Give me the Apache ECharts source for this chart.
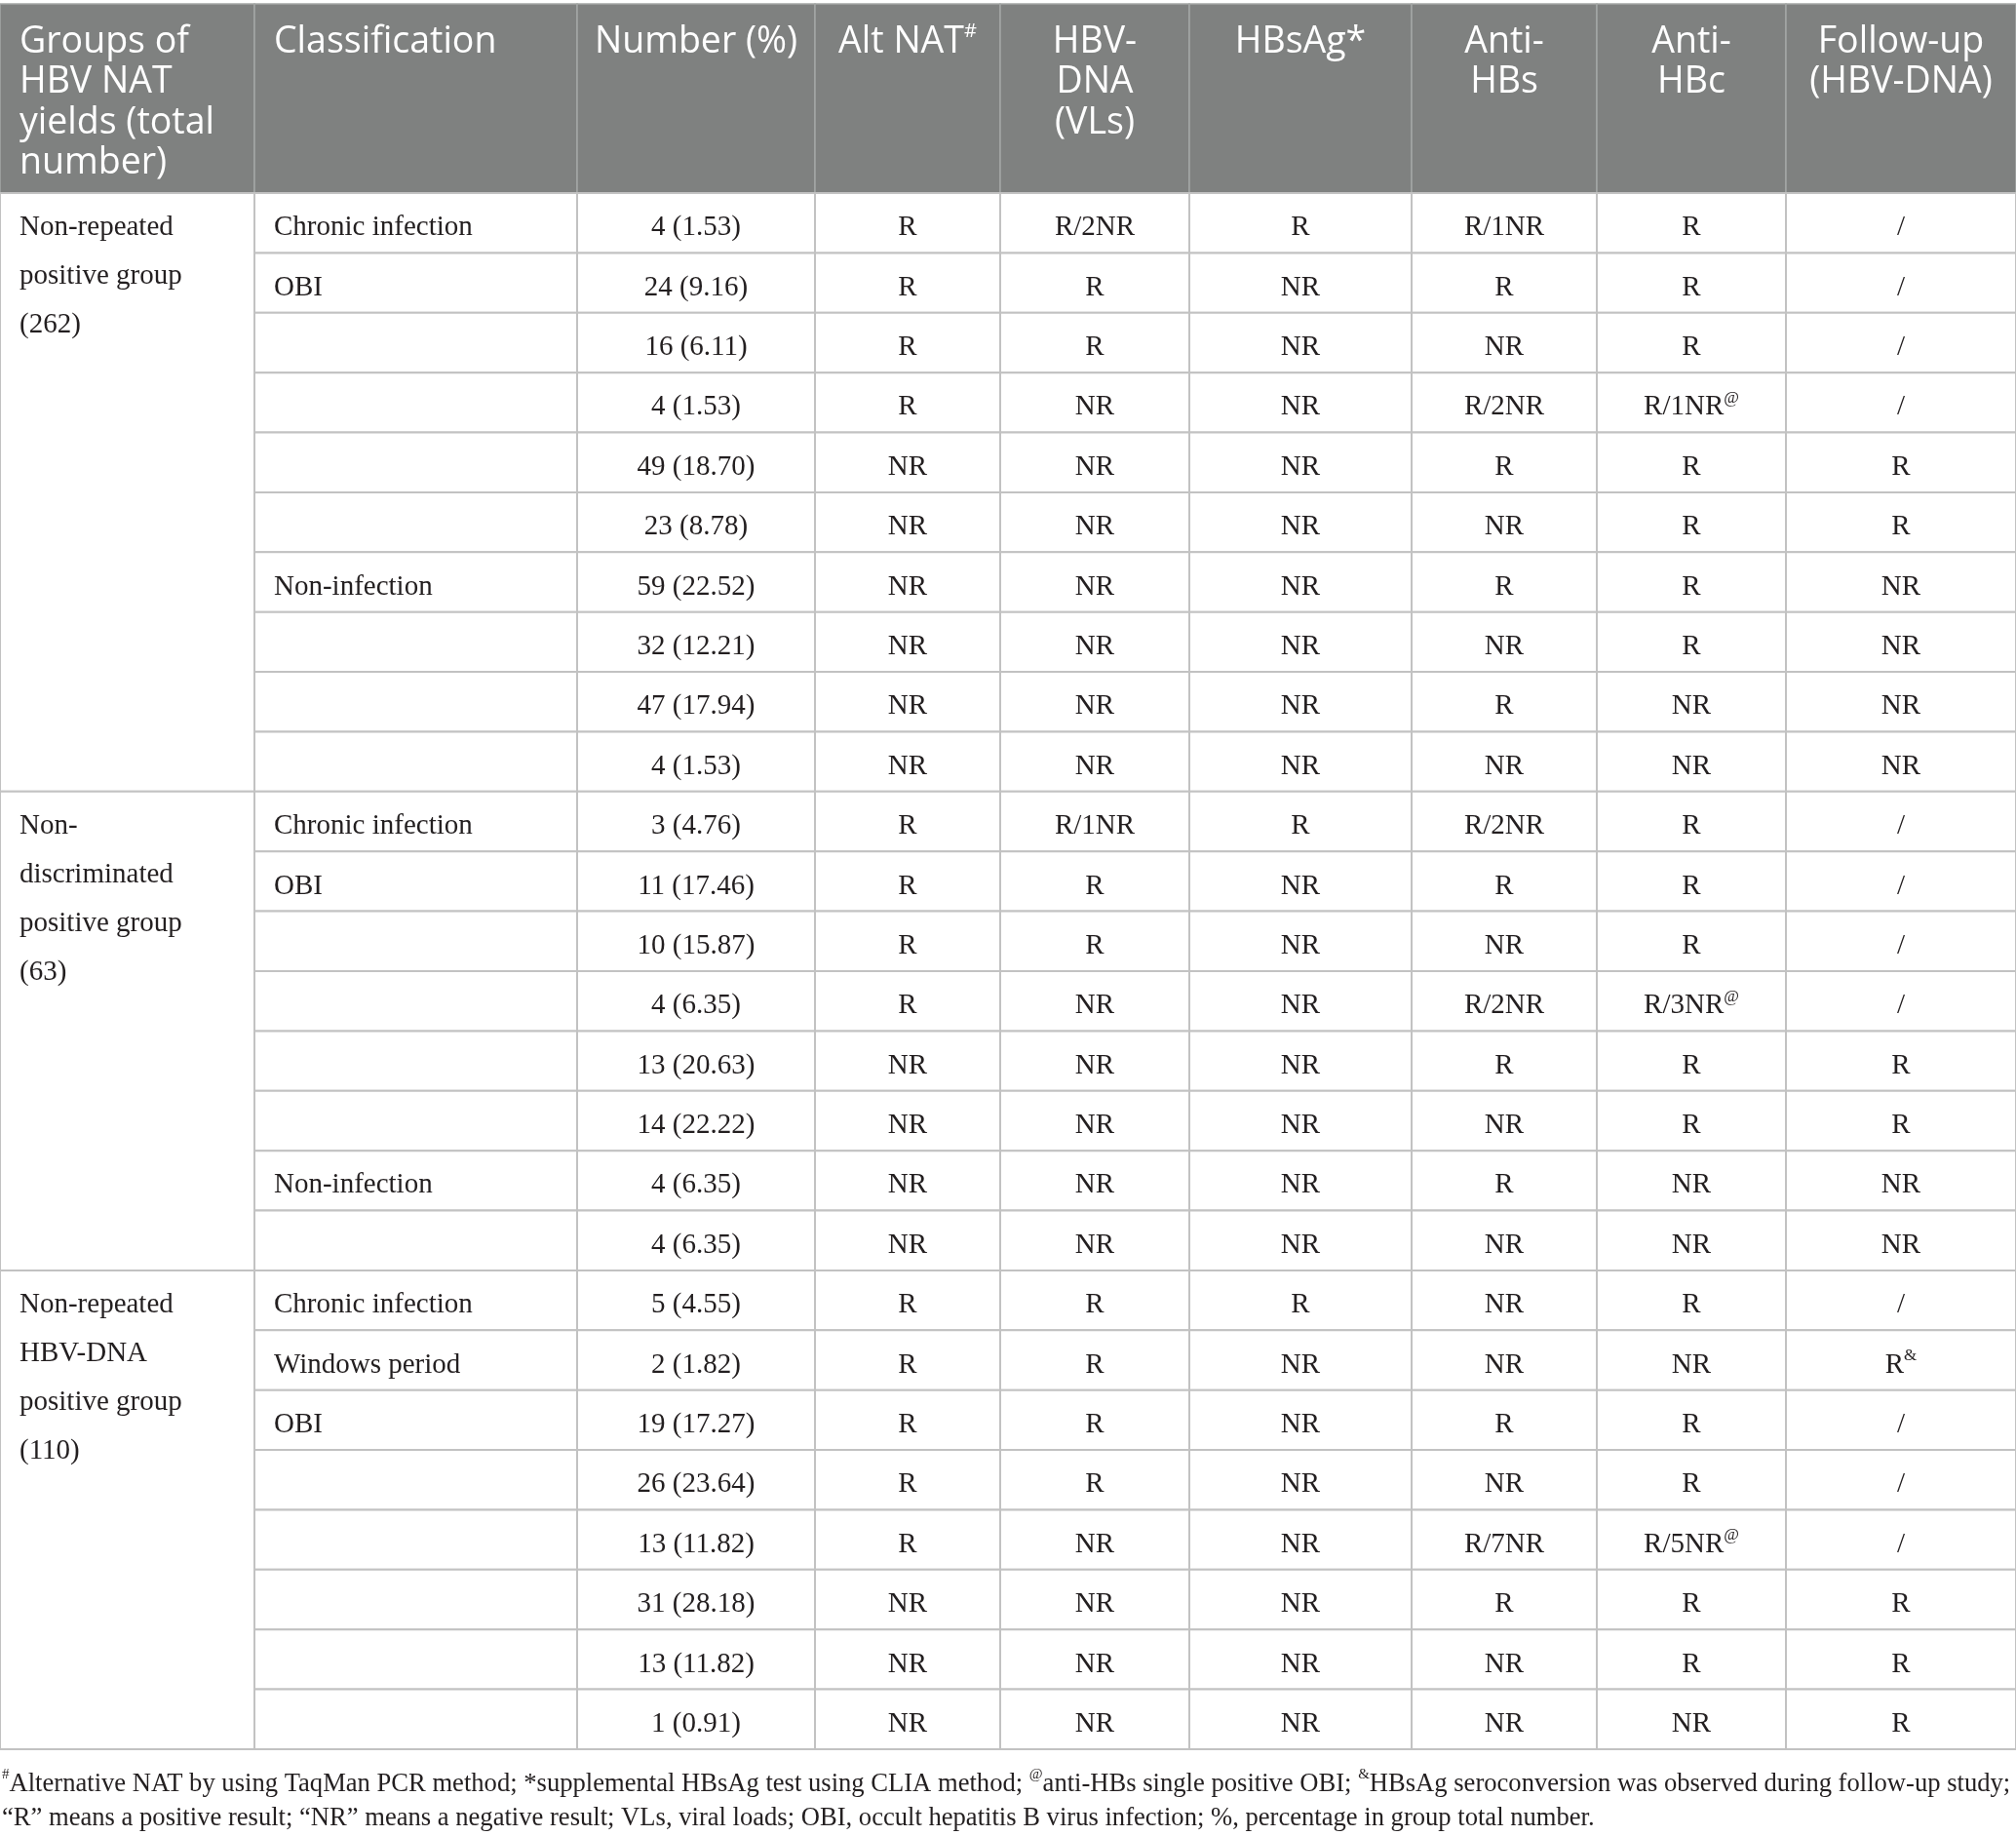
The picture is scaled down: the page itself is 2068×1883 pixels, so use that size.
<!DOCTYPE html>
<html>
<head>
<meta charset="utf-8">
<script src="https://cdn.jsdelivr.net/npm/echarts@6/dist/echarts.min.js"></script>
<style>
  html, body { margin: 0; padding: 0; background: #ffffff; }
  #chart { width: 2068px; height: 1883px; }
</style>
</head>
<body>
<div id="chart"></div>
<script>
// ---------------- data ----------------
const headers = [
  'Groups of\nHBV NAT\nyields (total\nnumber)',
  'Classification',
  'Number (%)',
  'Alt NAT#',
  'HBV-\nDNA\n(VLs)',
  'HBsAg*',
  'Anti-\nHBs',
  'Anti-\nHBc',
  'Follow-up\n(HBV-DNA)'
];

const groupLabels = [
  'Non-repeated\npositive group\n(262)',
  'Non-\ndiscriminated\npositive group\n(63)',
  'Non-repeated\nHBV-DNA\npositive group\n(110)'
];
const groupSizes = [10, 8, 8];

const classification = [
  'Chronic infection', 'OBI', '', '', '', '', 'Non-infection', '', '', '',
  'Chronic infection', 'OBI', '', '', '', '', 'Non-infection', '',
  'Chronic infection', 'Windows period', 'OBI', '', '', '', '', ''
];
const numberPct = [
  '4 (1.53)', '24 (9.16)', '16 (6.11)', '4 (1.53)', '49 (18.70)', '23 (8.78)', '59 (22.52)', '32 (12.21)', '47 (17.94)', '4 (1.53)',
  '3 (4.76)', '11 (17.46)', '10 (15.87)', '4 (6.35)', '13 (20.63)', '14 (22.22)', '4 (6.35)', '4 (6.35)',
  '5 (4.55)', '2 (1.82)', '19 (17.27)', '26 (23.64)', '13 (11.82)', '31 (28.18)', '13 (11.82)', '1 (0.91)'
];
const altNAT = [
  'R', 'R', 'R', 'R', 'NR', 'NR', 'NR', 'NR', 'NR', 'NR',
  'R', 'R', 'R', 'R', 'NR', 'NR', 'NR', 'NR',
  'R', 'R', 'R', 'R', 'R', 'NR', 'NR', 'NR'
];
const hbvDNA = [
  'R/2NR', 'R', 'R', 'NR', 'NR', 'NR', 'NR', 'NR', 'NR', 'NR',
  'R/1NR', 'R', 'R', 'NR', 'NR', 'NR', 'NR', 'NR',
  'R', 'R', 'R', 'R', 'NR', 'NR', 'NR', 'NR'
];
const hbsAg = [
  'R', 'NR', 'NR', 'NR', 'NR', 'NR', 'NR', 'NR', 'NR', 'NR',
  'R', 'NR', 'NR', 'NR', 'NR', 'NR', 'NR', 'NR',
  'R', 'NR', 'NR', 'NR', 'NR', 'NR', 'NR', 'NR'
];
const antiHBs = [
  'R/1NR', 'R', 'NR', 'R/2NR', 'R', 'NR', 'R', 'NR', 'R', 'NR',
  'R/2NR', 'R', 'NR', 'R/2NR', 'R', 'NR', 'R', 'NR',
  'NR', 'NR', 'R', 'NR', 'R/7NR', 'R', 'NR', 'NR'
];
const antiHBc = [
  'R', 'R', 'R', 'R/1NR@', 'R', 'R', 'R', 'R', 'NR', 'NR',
  'R', 'R', 'R', 'R/3NR@', 'R', 'R', 'NR', 'NR',
  'R', 'NR', 'R', 'R', 'R/5NR@', 'R', 'R', 'NR'
];
const followUp = [
  '/', '/', '/', '/', 'R', 'R', 'NR', 'NR', 'NR', 'NR',
  '/', '/', '/', '/', 'R', 'R', 'NR', 'NR',
  '/', 'R&', '/', '/', '/', 'R', 'R', 'R'
];

const footnoteLines = [
  '#Alternative NAT by using TaqMan PCR method; *supplemental HBsAg test using CLIA method; @anti-HBs single positive OBI; &HBsAg seroconversion was observed during follow-up study;',
  '\u201CR\u201D means a positive result; \u201CNR\u201D means a negative result; VLs, viral loads; OBI, occult hepatitis B virus infection; %, percentage in group total number.'
];

// ---------------- layout / style ----------------
const COL_EDGES = [0, 261, 592, 836, 1026, 1220, 1448, 1638, 1832, 2068];
const COL_ALIGN = ['left', 'left', 'center', 'center', 'center', 'center', 'center', 'center', 'center'];
const TOTAL_W = COL_EDGES[COL_EDGES.length - 1];
const N_ROWS = groupSizes.reduce((a, b) => a + b, 0);

const HEAD_FONT = '"Open Sans", "Noto Sans", sans-serif';
const BODY_FONT = '"Liberation Serif", "DejaVu Serif", serif';
const HEAD_BG = '#7f8180';
const HEAD_LINE = '#a4a6a5';
const BODY_LINE = '#c2c2c2';
const TEXT_COLOR = '#231f20';

function supify(s) {
  // wrap footnote markers (#, @, &) as superscript tokens
  return s.replace(/([#@&])/g, '{sup|$1}');
}

// body cells
const bodyCells = [];
let start = 0;
groupLabels.forEach((lab, g) => {
  bodyCells.push({ col: 0, row: start, span: groupSizes[g], text: lab });
  start += groupSizes[g];
});
const colData = [classification, numberPct, altNAT, hbvDNA, hbsAg, antiHBs, antiHBc, followUp];
for (let r = 0; r < N_ROWS; r++) {
  colData.forEach((arr, i) => {
    bodyCells.push({ col: i + 1, row: r, span: 1, text: arr[r] });
  });
}

const headCells = headers.map((h, i) => ({ col: i, text: h }));

function renderHead(params, api) {
  const c = headCells[params.dataIndex];
  const p0 = api.coord([COL_EDGES[c.col], 0]);
  const p1 = api.coord([COL_EDGES[c.col + 1], 1]);
  const align = COL_ALIGN[c.col];
  const tx = align === 'left' ? p0[0] + 20 : (p0[0] + p1[0]) / 2;
  return {
    type: 'group',
    children: [
      {
        type: 'rect',
        shape: { x: p0[0], y: p0[1], width: p1[0] - p0[0], height: p1[1] - p0[1] },
        style: { fill: HEAD_BG, stroke: HEAD_LINE, lineWidth: 1.5 }
      },
      {
        type: 'text',
        x: tx,
        y: p0[1] + 18.5,
        style: {
          text: supify(c.text),
          fill: '#ffffff',
          fontFamily: HEAD_FONT,
          fontSize: 37.5,
          lineHeight: 41.5,
          align: align,
          verticalAlign: 'top',
          rich: {
            sup: { fontFamily: HEAD_FONT, fontSize: 20, fill: '#ffffff', verticalAlign: 'top', lineHeight: 26 }
          }
        }
      }
    ]
  };
}

function renderBody(params, api) {
  const c = bodyCells[params.dataIndex];
  const p0 = api.coord([COL_EDGES[c.col], c.row]);
  const p1 = api.coord([COL_EDGES[c.col + 1], c.row + c.span]);
  const align = COL_ALIGN[c.col];
  const tx = align === 'left' ? p0[0] + 20 : (p0[0] + p1[0]) / 2;
  const rowH = (p1[1] - p0[1]) / c.span;
  const textEl = c.col === 0
    ? {
        type: 'text', x: tx, y: p0[1] + rowH / 2 - 20,
        style: {
          text: c.text, fill: TEXT_COLOR, fontFamily: BODY_FONT, fontSize: 29,
          lineHeight: 50, align: 'left', verticalAlign: 'top'
        }
      }
    : {
        type: 'text', x: tx, y: (p0[1] + p1[1]) / 2 + 5,
        style: {
          text: supify(c.text), fill: TEXT_COLOR, fontFamily: BODY_FONT, fontSize: 29,
          lineHeight: 36, align: align, verticalAlign: 'middle',
          rich: {
            sup: { fontFamily: BODY_FONT, fontSize: 17, fill: TEXT_COLOR, verticalAlign: 'top', lineHeight: 28 }
          }
        }
      };
  return {
    type: 'group',
    children: [
      {
        type: 'rect',
        shape: { x: p0[0], y: p0[1], width: p1[0] - p0[0], height: p1[1] - p0[1] },
        style: { fill: '#ffffff', stroke: BODY_LINE, lineWidth: 2 }
      },
      textEl
    ]
  };
}

const chart = echarts.init(document.getElementById('chart'), null, { renderer: 'canvas' });

const option = {
  backgroundColor: '#ffffff',
  animation: false,
  grid: [
    { left: 0, right: 0, top: 4, height: 194 },
    { left: 0, right: 0, top: 198, height: 1596 }
  ],
  xAxis: [
    { type: 'value', gridIndex: 0, min: 0, max: TOTAL_W, show: false },
    { type: 'value', gridIndex: 1, min: 0, max: TOTAL_W, show: false }
  ],
  yAxis: [
    { type: 'value', gridIndex: 0, min: 0, max: 1, inverse: true, show: false },
    { type: 'value', gridIndex: 1, min: 0, max: N_ROWS, inverse: true, show: false }
  ],
  title: {
    text: supify(footnoteLines.join('\n')),
    left: 2,
    top: 1813,
    padding: 0,
    textStyle: {
      fontFamily: BODY_FONT,
      fontSize: 26.6,
      fontWeight: 'normal',
      color: TEXT_COLOR,
      lineHeight: 34.6,
      rich: {
        sup: { fontFamily: BODY_FONT, fontSize: 15, color: TEXT_COLOR, verticalAlign: 'top', lineHeight: 25 }
      }
    }
  },
  series: [
    {
      type: 'custom',
      name: 'header',
      coordinateSystem: 'cartesian2d',
      xAxisIndex: 0,
      yAxisIndex: 0,
      silent: true,
      renderItem: renderHead,
      data: headCells.map(c => [c.col, 0])
    },
    {
      type: 'custom',
      name: 'body',
      coordinateSystem: 'cartesian2d',
      xAxisIndex: 1,
      yAxisIndex: 1,
      silent: true,
      renderItem: renderBody,
      data: bodyCells.map(c => [c.col, c.row])
    }
  ]
};

chart.setOption(option);
</script>
</body>
</html>
